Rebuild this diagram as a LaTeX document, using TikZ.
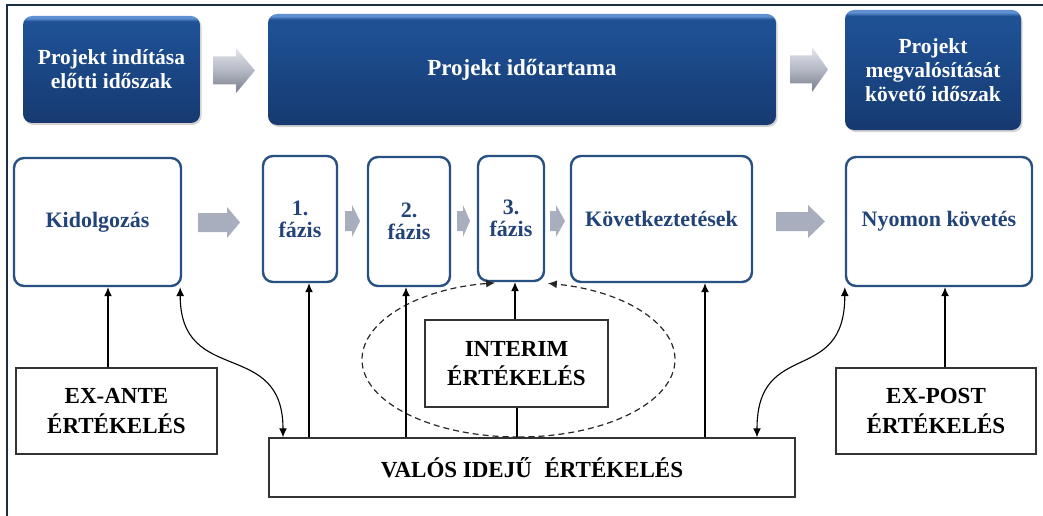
\documentclass[tikz,border=0pt]{standalone}
\usepackage{fontspec}
\setmainfont{Liberation Serif}
\usetikzlibrary{arrows.meta,calc,shadows}
\definecolor{bxL}{RGB}{95,145,210}
\definecolor{bxM}{RGB}{30,80,148}
\definecolor{bxD}{RGB}{22,58,112}
\definecolor{midB}{RGB}{40,80,130}
\definecolor{midT}{RGB}{35,68,120}
\definecolor{garrF}{RGB}{168,174,190}
\definecolor{gL}{RGB}{228,230,235}
\definecolor{gM}{RGB}{180,184,196}
\definecolor{gD}{RGB}{120,125,140}
\definecolor{frameC}{RGB}{30,45,70}
\pgfdeclareverticalshading{topbx}{100bp}{color(0bp)=(bxD); color(25bp)=(bxD); color(68bp)=(bxM); color(72.5bp)=(bxM); color(74bp)=(bxL); color(75bp)=(bxL); color(100bp)=(bxL)}
\pgfdeclareverticalshading{garrsh}{100bp}{color(0bp)=(gD); color(25bp)=(gD); color(50bp)=(gM); color(75bp)=(gL); color(100bp)=(gL)}
\newcommand\garr[7]{\path[#7] (#1,#4-#5) -- (#2,#4-#5) -- (#2,#4-#6) -- (#3,#4) -- (#2,#4+#6) -- (#2,#4+#5) -- (#1,#4+#5) -- cycle;}
\tikzset{
  topbox/.style={draw=none, shading=topbx, rounded corners=9pt, text=white,
    font=\bfseries\fontsize{21.5}{24}\selectfont, align=center, inner sep=0pt,
    drop shadow={opacity=0.35, shadow xshift=1.5pt, shadow yshift=-2pt}},
  midbox/.style={draw=midB, line width=2.4pt, rounded corners=10pt, fill=white, text=midT,
    font=\bfseries\fontsize{22}{22}\selectfont, align=center, inner sep=0pt},
  evalbox/.style={draw=black!80, line width=1.5pt, fill=white,
    font=\bfseries\fontsize{23}{29.5}\selectfont, align=center, inner sep=0pt},
  conn/.style={line width=1.1pt, -{Latex[length=9pt,width=8pt]}},
  dconn/.style={line width=1.1pt, {Latex[length=9pt,width=8pt]}-{Latex[length=9pt,width=8pt]}},
  toparr/.style={shading=garrsh},
  midarr/.style={fill=garrF},
  ellip/.style={dashed, dash pattern=on 6pt off 4pt, draw=black!85, line width=1.2pt, -{Latex[length=9pt,width=8pt]}}
}
\begin{document}
\begin{tikzpicture}[x=1pt,y=-1pt]
\useasboundingbox (0,0) rectangle (1043,516);
\draw[frameC, line width=2pt] (7,516) -- (7,5) -- (1043,5);
% top row
\node[topbox, minimum width=177pt, minimum height=107pt] (b1) at (111.5,69.5) {Projekt indítása\\előtti időszak};
\node[topbox, minimum width=508pt, minimum height=111pt, font=\bfseries\fontsize{23}{26}\selectfont] (b2) at (522,69.5) {Projekt időtartama};
\node[topbox, minimum width=176pt, minimum height=120pt] (b3) at (933,70) {Projekt\\megvalósítását\\követő időszak};
\garr{213}{236}{255}{70.5}{14}{22.5}{toparr}
\garr{790}{812}{828}{69.5}{14}{22.5}{toparr}
% middle row
\node[midbox, minimum width=167pt, minimum height=128pt] (kid) at (97.5,222) {Kidolgozás};
\node[midbox, minimum width=74pt, minimum height=126pt] (f1) at (300,219) {1.\\fázis};
\node[midbox, minimum width=82pt, minimum height=129pt] (f2) at (409,221.5) {2.\\fázis};
\node[midbox, minimum width=66pt, minimum height=125pt] (f3) at (511,218.5) {3.\\fázis};
\node[midbox, minimum width=181pt, minimum height=126pt] (kov) at (661.5,219) {Következtetések};
\node[midbox, minimum width=186pt, minimum height=129pt] (nyo) at (939,221.5) {Nyomon követés};
\garr{198}{227}{240}{222.5}{9.5}{15.5}{midarr}
\garr{345}{352}{360}{221}{10}{16}{midarr}
\garr{457}{463}{470}{221}{10}{16}{midarr}
\garr{550}{556}{565}{221}{10}{16}{midarr}
\garr{776}{808}{825}{221.5}{9.5}{16.5}{midarr}
% bottom row
\node[evalbox, minimum width=201pt, minimum height=86pt] (exante) at (116.5,411) {EX-ANTE\\ÉRTÉKELÉS};
\node[evalbox, minimum width=526pt, minimum height=59pt] (valos) at (532,467.5) {VALÓS IDEJŰ\hspace{0.3em} ÉRTÉKELÉS};
\node[evalbox, minimum width=183pt, minimum height=87pt] (interim) at (516.5,363.5) {INTERIM\\ÉRTÉKELÉS};
\node[evalbox, minimum width=200pt, minimum height=86pt] (expost) at (936,411) {EX-POST\\ÉRTÉKELÉS};
% dashed ellipse with arrows
\draw[ellip] (518.5,437) arc[start angle=90, end angle=261.4, x radius=156.5, y radius=77.5];
\draw[ellip] (518.5,437) arc[start angle=90, end angle=-79.2, x radius=156.5, y radius=77.5];
% connectors
\coordinate (ea) at ([xshift=-8.5pt]exante.north);
\draw[conn] (ea) -- (ea |- kid.south);
\coordinate (ep) at ([xshift=9pt]expost.north);
\draw[conn] (ep) -- (ep |- nyo.south);
\coordinate (v1) at ([xshift=-223pt]valos.north);
\draw[conn] (v1) -- (v1 |- f1.south);
\coordinate (v2) at ([xshift=-126pt]valos.north);
\draw[conn] (v2) -- (v2 |- f2.south);
\coordinate (vI) at ([xshift=-15pt]valos.north);
\draw[line width=1.1pt] (vI) -- (vI |- interim.south);
\coordinate (iT) at ([xshift=-1.5pt]interim.north);
\draw[conn] (iT) -- (iT |- f3.south);
\coordinate (v4) at ([xshift=173pt]valos.north);
\draw[conn] (v4) -- (v4 |- kov.south);
\coordinate (kc) at ([xshift=-2pt]kid.south east);
\coordinate (vL) at ([xshift=-249pt]valos.north);
\draw[dconn] (kc) .. controls +(0,100) and +(0,-100) .. (vL);
\coordinate (nc) at ([xshift=0pt]nyo.south west);
\coordinate (vR) at ([xshift=225pt]valos.north);
\draw[dconn] (nc) .. controls +(0,100) and +(0,-100) .. (vR);
\end{tikzpicture}
\end{document}
